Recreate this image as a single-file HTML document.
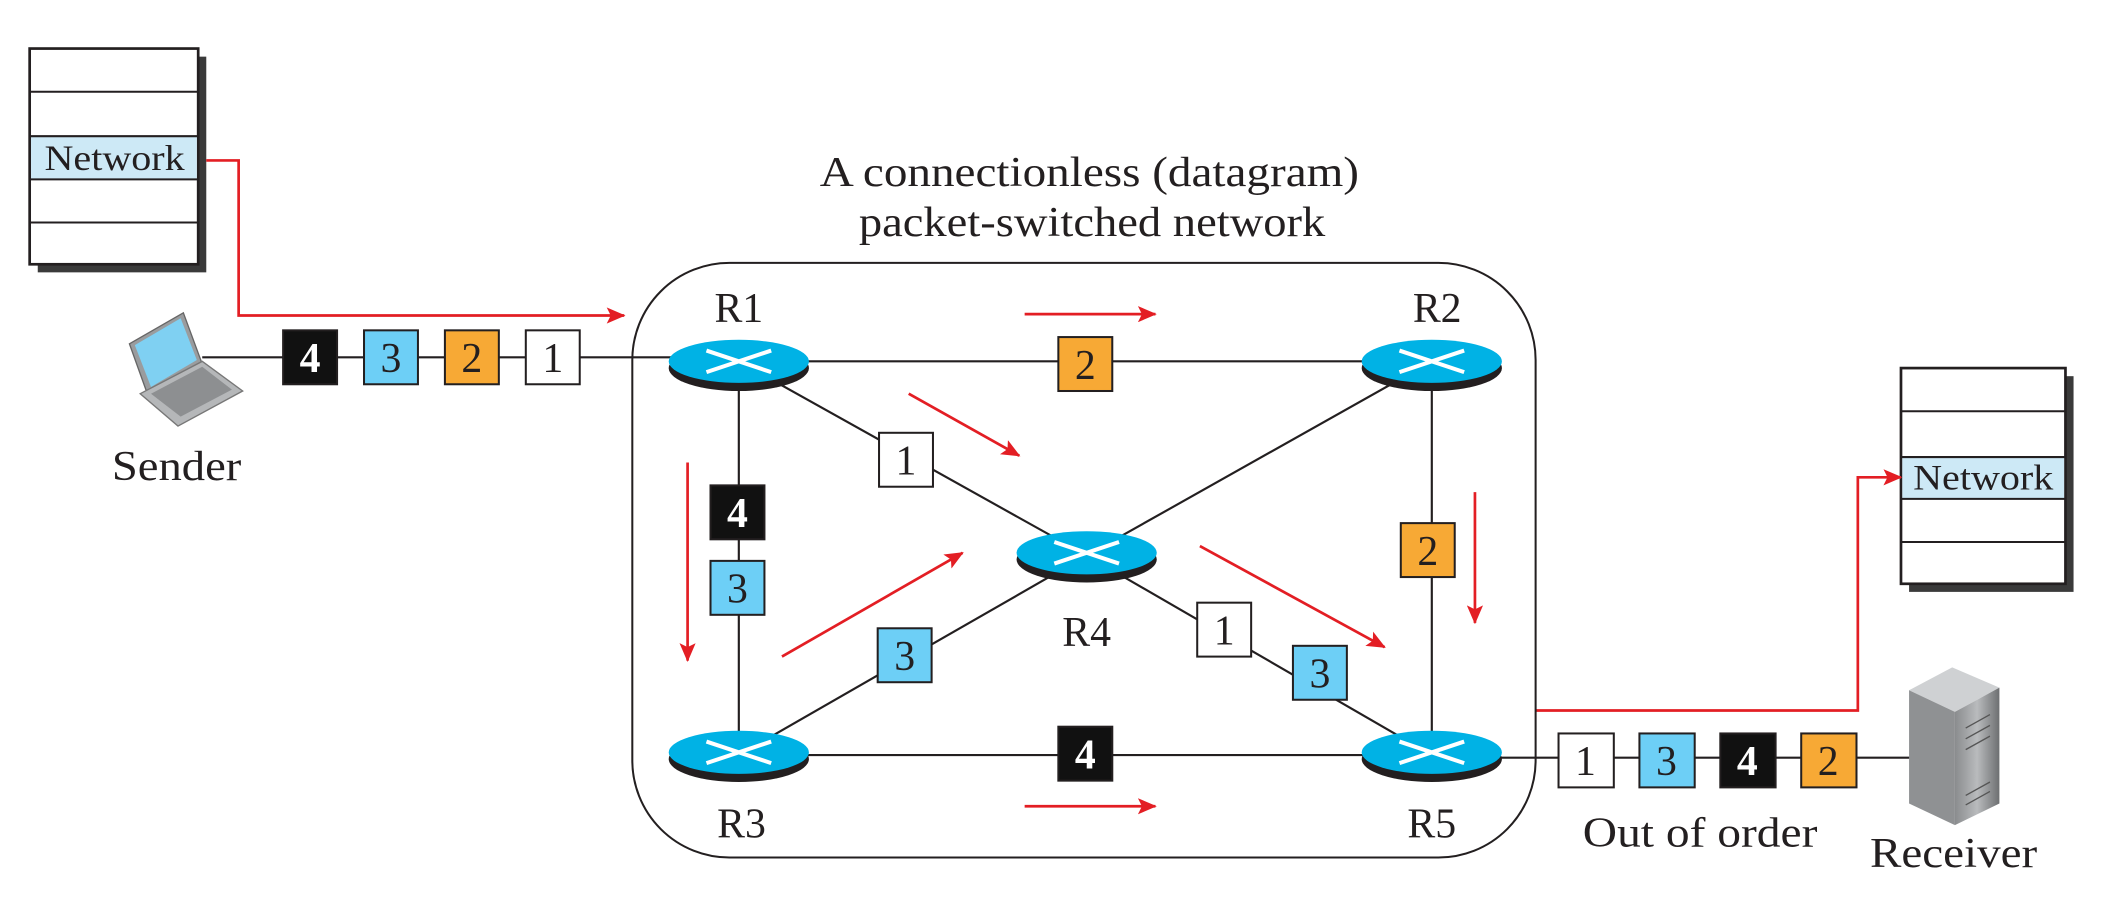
<!DOCTYPE html>
<html><head><meta charset="utf-8"><style>
html,body{margin:0;padding:0;background:#fff}
svg{display:block}
text{font-family:"Liberation Serif",serif;fill:#231f20}
</style></head><body>
<svg width="2114" height="902" viewBox="0 0 1568 669" xmlns="http://www.w3.org/2000/svg">
<defs>
<marker id="ah" markerWidth="14" markerHeight="12" refX="13" refY="6" orient="auto" markerUnits="userSpaceOnUse"><path d="M0,0 L14,6 L0,12 L3,6 Z" fill="#e31e24"/></marker>
<linearGradient id="srv" x1="0" x2="1"><stop offset="0" stop-color="#8a8c8e"/><stop offset="0.5" stop-color="#b9bbbd"/><stop offset="1" stop-color="#6d6f71"/></linearGradient>
</defs>
<!-- sender stack -->
<rect x="28" y="42" width="125" height="160" fill="#3a3a3a"/>
<rect x="22" y="36" width="125" height="160" fill="#fff" stroke="#231f20" stroke-width="2"/>
<rect x="23" y="101" width="123" height="32" fill="#cde9f6"/>
<g stroke="#231f20" stroke-width="1.5"><line x1="22" y1="68" x2="147" y2="68"/><line x1="22" y1="101" x2="147" y2="101"/><line x1="22" y1="133" x2="147" y2="133"/><line x1="22" y1="165" x2="147" y2="165"/></g>
<text x="85" y="126" font-size="27" text-anchor="middle" textLength="104" lengthAdjust="spacingAndGlyphs">Network</text>
<polyline points="153,119 177,119 177,234 463,234" fill="none" stroke="#e31e24" stroke-width="2" marker-end="url(#ah)"/>
<!-- receiver stack -->
<rect x="1416" y="279" width="122" height="160" fill="#3a3a3a"/>
<rect x="1410" y="273" width="122" height="160" fill="#fff" stroke="#231f20" stroke-width="2"/>
<rect x="1411" y="339" width="120" height="31" fill="#cde9f6"/>
<g stroke="#231f20" stroke-width="1.5"><line x1="1410" y1="305" x2="1532" y2="305"/><line x1="1410" y1="339" x2="1532" y2="339"/><line x1="1410" y1="370" x2="1532" y2="370"/><line x1="1410" y1="402" x2="1532" y2="402"/></g>
<text x="1471" y="363" font-size="27" text-anchor="middle" textLength="104" lengthAdjust="spacingAndGlyphs">Network</text>
<polyline points="1139,527 1378,527 1378,354 1410,354" fill="none" stroke="#e31e24" stroke-width="2" marker-end="url(#ah)"/>
<!-- title -->
<text x="808" y="138" font-size="31" text-anchor="middle" textLength="400" lengthAdjust="spacingAndGlyphs">A connectionless (datagram)</text>
<text x="810" y="175" font-size="31" text-anchor="middle" textLength="346" lengthAdjust="spacingAndGlyphs">packet-switched network</text>
<!-- cloud -->
<rect x="469" y="195" width="670" height="441" rx="72" fill="none" stroke="#231f20" stroke-width="1.5"/>
<!-- links -->
<g stroke="#231f20" stroke-width="1.6">
<line x1="150" y1="265" x2="500" y2="265"/>
<line x1="548" y1="268" x2="1062" y2="268"/>
<line x1="548" y1="268" x2="548" y2="560"/>
<line x1="1062" y1="268" x2="1062" y2="560"/>
<line x1="548" y1="560" x2="1062" y2="560"/>
<line x1="548" y1="268" x2="806" y2="412"/>
<line x1="1062" y1="268" x2="806" y2="412"/>
<line x1="548" y1="560" x2="806" y2="412"/>
<line x1="806" y1="412" x2="1062" y2="560"/>
<line x1="1062" y1="562" x2="1418" y2="562"/>
</g>
<!-- routers -->
<g transform="translate(548,268)"><ellipse cx="0" cy="5" rx="52" ry="17" fill="#231f20"/><ellipse cx="0" cy="0" rx="52" ry="16" fill="#00b2e5"/><path d="M-24,-8 L24,8 M-24,8 L24,-8" stroke="#fff" stroke-width="3"/></g>
<g transform="translate(1062,268)"><ellipse cx="0" cy="5" rx="52" ry="17" fill="#231f20"/><ellipse cx="0" cy="0" rx="52" ry="16" fill="#00b2e5"/><path d="M-24,-8 L24,8 M-24,8 L24,-8" stroke="#fff" stroke-width="3"/></g>
<g transform="translate(548,558)"><ellipse cx="0" cy="5" rx="52" ry="17" fill="#231f20"/><ellipse cx="0" cy="0" rx="52" ry="16" fill="#00b2e5"/><path d="M-24,-8 L24,8 M-24,8 L24,-8" stroke="#fff" stroke-width="3"/></g>
<g transform="translate(1062,558)"><ellipse cx="0" cy="5" rx="52" ry="17" fill="#231f20"/><ellipse cx="0" cy="0" rx="52" ry="16" fill="#00b2e5"/><path d="M-24,-8 L24,8 M-24,8 L24,-8" stroke="#fff" stroke-width="3"/></g>
<g transform="translate(806,410)"><ellipse cx="0" cy="5" rx="52" ry="17" fill="#231f20"/><ellipse cx="0" cy="0" rx="52" ry="16" fill="#00b2e5"/><path d="M-24,-8 L24,8 M-24,8 L24,-8" stroke="#fff" stroke-width="3"/></g>
<g font-size="31"><text x="548" y="239" text-anchor="middle">R1</text><text x="1066" y="239" text-anchor="middle">R2</text><text x="550" y="621" text-anchor="middle">R3</text><text x="1062" y="621" text-anchor="middle">R5</text><text x="806" y="479" text-anchor="middle">R4</text></g>
<!-- red direction arrows -->
<g stroke="#e31e24" stroke-width="2" fill="none" marker-end="url(#ah)">
<line x1="760" y1="233" x2="857" y2="233"/>
<line x1="760" y1="598" x2="857" y2="598"/>
<line x1="510" y1="343" x2="510" y2="490"/>
<line x1="674" y1="292" x2="756" y2="338"/>
<line x1="580" y1="487" x2="714" y2="410"/>
<line x1="890" y1="405" x2="1027" y2="480"/>
<line x1="1094" y1="365" x2="1094" y2="462"/>
</g>
<!-- packets -->
<g stroke="#231f20" stroke-width="1.5" font-size="31">
<rect x="210" y="245" width="40" height="40" fill="#111"/><text x="230" y="276" text-anchor="middle" stroke="none" font-weight="bold" style="fill:#fff">4</text>
<rect x="270" y="245" width="40" height="40" fill="#6dcff6"/><text x="290" y="276" text-anchor="middle" stroke="none">3</text>
<rect x="330" y="245" width="40" height="40" fill="#f7a935"/><text x="350" y="276" text-anchor="middle" stroke="none">2</text>
<rect x="390" y="245" width="40" height="40" fill="#fff"/><text x="410" y="276" text-anchor="middle" stroke="none">1</text>

<rect x="785" y="250" width="40" height="40" fill="#f7a935"/><text x="805" y="281" text-anchor="middle" stroke="none">2</text>
<rect x="652" y="321" width="40" height="40" fill="#fff"/><text x="672" y="352" text-anchor="middle" stroke="none">1</text>
<rect x="527" y="360" width="40" height="40" fill="#111"/><text x="547" y="391" text-anchor="middle" stroke="none" font-weight="bold" style="fill:#fff">4</text>
<rect x="527" y="416" width="40" height="40" fill="#6dcff6"/><text x="547" y="447" text-anchor="middle" stroke="none">3</text>
<rect x="651" y="466" width="40" height="40" fill="#6dcff6"/><text x="671" y="497" text-anchor="middle" stroke="none">3</text>
<rect x="888" y="447" width="40" height="40" fill="#fff"/><text x="908" y="478" text-anchor="middle" stroke="none">1</text>
<rect x="959" y="479" width="40" height="40" fill="#6dcff6"/><text x="979" y="510" text-anchor="middle" stroke="none">3</text>
<rect x="1039" y="388" width="40" height="40" fill="#f7a935"/><text x="1059" y="419" text-anchor="middle" stroke="none">2</text>
<rect x="785" y="539" width="40" height="40" fill="#111"/><text x="805" y="570" text-anchor="middle" stroke="none" font-weight="bold" style="fill:#fff">4</text>

<rect x="1156" y="544" width="41" height="40" fill="#fff"/><text x="1176" y="575" text-anchor="middle" stroke="none">1</text>
<rect x="1216" y="544" width="41" height="40" fill="#6dcff6"/><text x="1236" y="575" text-anchor="middle" stroke="none">3</text>
<rect x="1276" y="544" width="41" height="40" fill="#111"/><text x="1296" y="575" text-anchor="middle" stroke="none" font-weight="bold" style="fill:#fff">4</text>
<rect x="1336" y="544" width="41" height="40" fill="#f7a935"/><text x="1356" y="575" text-anchor="middle" stroke="none">2</text>
</g>
<!-- laptop -->
<g>
<path d="M96,255 L136,232 L150,270 L110,294 Z" fill="#9a9c9e" stroke="#666" stroke-width="1"/>
<path d="M100,256 L134,236 L146,267 L112,287 Z" fill="#7fd0f2"/>
<path d="M104,292 L150,268 L180,290 L132,316 Z" fill="#b5b7b9" stroke="#777" stroke-width="1"/>
<path d="M112,292 L150,272 L172,289 L134,309 Z" fill="#8d8f91"/>
</g>
<text x="131" y="356" font-size="31" text-anchor="middle" textLength="96" lengthAdjust="spacingAndGlyphs">Sender</text>
<!-- server -->
<g>
<path d="M1416,512 L1448,495 L1483,510 L1450,528 Z" fill="#cfd1d3"/>
<path d="M1416,512 L1450,528 L1450,612 L1416,596 Z" fill="#8f9193"/>
<path d="M1450,528 L1483,510 L1483,596 L1450,612 Z" fill="url(#srv)"/>
<g stroke="#555" stroke-width="1"><line x1="1458" y1="540" x2="1476" y2="530"/><line x1="1458" y1="548" x2="1476" y2="538"/><line x1="1458" y1="556" x2="1476" y2="546"/><line x1="1458" y1="590" x2="1476" y2="580"/><line x1="1458" y1="597" x2="1476" y2="587"/></g>
</g>
<text x="1261" y="628" font-size="31" text-anchor="middle" textLength="174" lengthAdjust="spacingAndGlyphs">Out of order</text>
<text x="1449" y="643" font-size="31" text-anchor="middle" textLength="124" lengthAdjust="spacingAndGlyphs">Receiver</text>
</svg>
</body></html>
